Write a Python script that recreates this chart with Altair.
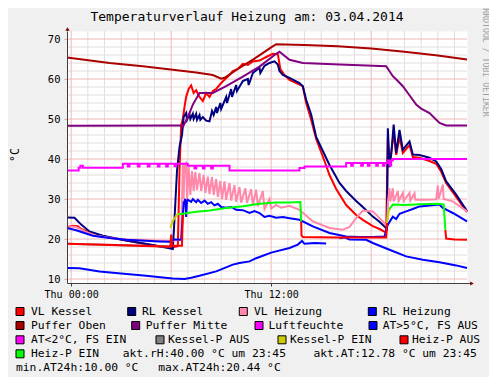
import altair as alt
import pandas as pd

FONT = "DejaVu Sans Mono"

# ---------------- data: (hour of 03.04.2014, value) ----------------
vl_kessel = [(-0.25,23.0),(0.1,23.3),(0.4,23.2),(0.6,22.5),(1.3,21.3),(2.3,20.4),(3.3,19.6),(4.3,18.9),(5.3,18.2),(6.0,17.9),
             (6.4,18.2),(6.5,37.0),(6.6,48.5),(6.7,50.0),(6.8,53.0),(6.9,55.6),(7.05,57.5),(7.2,58.4),(7.35,56.5),(7.5,57.2),
             (7.7,55.5),(7.9,54.5),(8.1,56.5),(8.3,55.5),(8.5,57.0),(8.7,57.5),(9.0,59.0),(9.2,59.8),(9.5,61.0),(9.7,62.0),
             (10.0,62.5),(10.3,63.8),(10.6,63.5),(10.9,64.4),(11.3,64.6),(11.7,65.5),(12.1,66.3),(12.4,66.2),(12.55,62.5),(12.8,61.0),
             (13.1,59.8),(13.9,58.2),(14.1,54.0),(14.4,49.8),(14.7,45.0),(15.2,39.5),(15.5,36.0),(15.9,32.5),(16.5,28.5),(17.1,26.0),
             (17.5,24.8),(18.1,23.2),(18.5,22.5),(18.9,21.6),(19.0,45.5),(19.1,39.0),(19.2,41.5),(19.35,46.5),(19.5,41.0),(19.7,45.5),
             (19.9,41.5),(20.3,43.5),(20.5,40.5),(20.9,40.3),(21.5,39.5),(21.9,38.8),(22.2,36.8),(22.5,34.0),(23.1,30.5),(23.75,26.7)]

rl_kessel = [(-0.25,25.4),(0.2,25.3),(0.6,23.6),(1.1,21.9),(1.9,20.8),(3.3,19.6),(4.7,18.6),(5.9,17.7),(6.1,17.5),(6.2,25.0),
             (6.35,37.0),(6.5,43.0),(6.65,46.0),(6.75,50.5),(6.9,51.5),(6.95,49.8),(7.1,51.2),(7.15,50.0),(7.3,51.3),(7.35,50.0),
             (7.5,51.3),(7.55,49.8),(7.7,51.0),(7.75,49.8),(7.9,50.5),(8.1,49.6),(8.3,49.4),(8.45,52.0),(8.55,51.0),(8.7,53.0),
             (8.75,51.5),(8.95,54.0),(9.0,52.5),(9.3,55.5),(9.35,54.0),(9.6,57.5),(9.65,55.5),(9.9,58.5),(9.95,57.0),(10.3,59.5),
             (10.6,60.0),(10.65,58.5),(10.9,61.5),(11.3,62.8),(11.35,61.5),(11.6,63.3),(11.9,64.0),(12.2,64.4),(12.4,63.6),(12.5,62.0),
             (12.7,61.0),(13.1,60.3),(13.7,59.0),(13.9,58.2),(14.1,54.8),(14.4,51.1),(14.7,45.5),(15.1,42.0),(15.5,38.5),(16.1,34.0),
             (16.5,32.0),(17.1,29.5),(17.5,28.0),(18.1,25.6),(18.5,24.3),(18.95,22.5),(19.0,47.7),(19.1,38.0),(19.2,41.0),(19.35,48.6),
             (19.5,41.5),(19.7,47.3),(19.9,42.3),(20.3,44.4),(20.5,41.1),(20.9,41.0),(21.5,40.3),(21.9,39.4),(22.2,37.5),(22.5,34.4),
             (23.1,31.1),(23.75,27.0)]

vl_heizung = [(-0.25,23.2),(0.3,23.0),(0.8,21.9),(1.5,20.8),(2.5,20.2),(3.5,19.9),(5.0,19.6),(6.0,19.5),(6.6,19.9),(6.7,38.8),
              (6.75,30.0),(6.8,38.5),(6.9,39.0),(6.95,29.5),(7.05,38.0),(7.15,31.0),(7.25,37.0),(7.35,32.0),(7.45,36.8),(7.55,32.3),
              (7.7,36.5),(7.8,32.0),(7.95,36.0),(8.05,31.5),(8.2,35.6),(8.3,31.2),(8.45,35.5),(8.55,31.0),(8.7,35.0),(8.8,30.5),
              (8.95,34.5),(9.05,30.0),(9.2,34.4),(9.3,29.8),(9.5,34.0),(9.6,29.6),(9.8,33.5),(9.9,29.3),(10.1,33.0),(10.2,29.1),
              (10.45,32.7),(10.55,29.0),(10.8,32.5),(10.9,28.5),(11.1,32.3),(11.2,28.2),(11.5,32.0),(11.6,27.5),(11.9,30.0),(12.0,27.6),
              (12.3,28.5),(12.6,27.8),(13.1,28.3),(13.7,27.3),(14.5,24.4),(15.5,22.75),(16.3,22.3),(16.7,23.0),(17.1,25.2),(17.5,27.1),
              (18.1,26.9),(18.7,24.4),(18.95,23.1),(19.0,29.0),(19.1,32.7),(19.15,29.4),(19.3,32.7),(19.35,29.4),(19.6,32.0),(19.65,29.5),
              (19.9,31.5),(19.95,29.5),(20.3,31.5),(20.35,29.6),(20.6,31.4),(20.65,29.8),(21.3,29.8),(21.9,29.9),(22.0,33.4),(22.05,30.0),
              (22.3,33.6),(22.35,30.0),(22.9,29.4),(23.75,26.9)]

rl_heizung = [(-0.25,22.75),(0.3,22.2),(0.8,21.5),(1.3,20.8),(2.3,20.25),(3.3,19.8),(5.3,19.4),(5.9,19.3),(6.2,19.9),(6.6,19.8),
              (6.75,29.0),(6.85,30.0),(6.9,25.5),(6.95,29.5),(7.0,29.8),(7.2,29.3),(7.3,30.0),(7.5,29.2),(7.6,29.8),(7.8,29.0),
              (8.0,29.6),(8.2,28.8),(8.4,29.2),(8.6,28.4),(8.8,28.8),(9.0,28.0),(9.3,27.8),(9.6,28.0),(9.9,27.3),(10.3,27.2),
              (10.7,26.5),(11.0,27.0),(11.3,26.5),(11.6,25.5),(11.9,25.8),(12.3,25.3),(12.7,25.5),(13.1,25.2),(13.7,24.8),(14.5,23.15),
              (15.5,21.5),(16.5,20.65),(17.3,20.5),(18.1,20.5),(18.8,20.65),(19.0,23.6),(19.3,25.6),(19.5,25.0),(19.7,26.3),(20.1,26.9),
              (20.5,27.5),(20.9,28.15),(21.5,28.4),(22.1,28.6),(22.3,27.75),(22.9,26.5),(23.75,24.4)]

puffer_oben = [(-0.25,65.4),(2.3,64.0),(4.3,63.2),(6.1,62.3),(7.5,61.6),(8.5,61.0),(9.0,60.1),(9.2,60.3),(10.0,62.5),(11.0,65.1),
               (12.0,67.9),(12.3,68.7),(14.0,68.5),(16.0,68.2),(18.0,67.6),(20.0,66.8),(22.0,65.9),(23.75,64.9)]

puffer_mitte = [(-0.25,48.3),(6.5,48.4),(6.7,48.0),(7.0,50.5),(7.3,53.6),(7.7,56.5),(8.5,56.5),(9.3,58.2),(10.3,60.6),(11.3,63.1),
                (12.3,66.3),(12.5,66.8),(13.1,64.8),(13.9,64.0),(16.1,63.6),(18.9,63.2),(19.3,60.7),(19.6,59.5),(19.9,58.2),(20.2,56.5),
                (20.7,53.6),(21.0,52.6),(21.5,51.5),(22.1,49.0),(22.5,48.4),(23.75,48.4)]

luftfeuchte = [(-0.25,37.1),(0.45,37.8),(0.55,38.3),(0.7,37.8),(3.1,38.8),(3.4,38.1),(3.5,38.8),(4.0,38.1),(4.1,38.8),(4.6,38.1),
               (4.7,38.8),(5.2,38.1),(5.3,38.8),(5.7,38.1),(5.8,38.8),(6.2,38.2),(6.3,38.8),(7.0,38.3),(7.4,37.6),(7.5,38.3),
               (7.9,37.6),(8.0,38.3),(8.4,37.6),(8.5,38.3),(9.5,37.15),(13.7,37.75),(14.0,38.15),(16.5,39.0),(16.8,38.3),(16.9,39.0),
               (17.4,38.3),(17.5,39.0),(17.8,38.3),(17.9,39.0),(18.3,38.3),(18.4,39.0),(18.7,38.3),(18.8,39.0),(19.0,39.6),(19.1,38.4),
               (19.2,39.6),(19.3,40.0),(23.75,40.0)]

aussen_1 = [(-0.25,12.75),(0.5,12.7),(1.7,11.9),(3.0,11.4),(4.5,10.8),(5.5,10.4),(6.1,10.1),(6.8,10.0),(7.2,10.3),(7.7,10.8),
            (8.7,11.9),(9.7,13.6),(10.1,14.0),(10.7,14.4),(11.1,15.2),(12.0,16.6),(13.1,17.75),(13.6,18.6),(13.85,19.5),(14.0,18.8),
            (14.6,19.0),(15.3,18.9)]
aussen_2 = [(16.1,20.2),(16.4,20.44),(16.7,19.9),(17.7,19.8),(18.1,19.0),(19.1,17.3),(20.1,15.65),(21.1,14.8),(22.1,14.2),(23.1,13.4),
            (23.75,12.75)]

kesselp_aus_1 = [(-0.25,18.8),(5.95,18.1)]
kesselp_ein_1 = [(5.95,22.8),(6.1,24.5),(6.35,26.1),(6.5,26.3)]
kesselp_ein_2 = [(18.95,24.0),(19.05,26.9),(19.15,27.8)]

heizp_aus_1 = [(-0.25,18.8),(5.95,18.1),(6.0,21.1),(6.06,18.3),(6.65,18.3),(6.7,26.3)]
heizp_aus_2 = [(13.8,24.4),(13.82,20.9),(13.9,20.5),(16.0,20.4),(18.9,20.4),(18.95,24.0)]
heizp_aus_3 = [(22.45,22.3),(22.5,20.1),(23.0,19.9),(23.75,19.8)]
heizp_ein_1 = [(6.45,26.2),(6.8,26.4),(7.5,26.8),(8.3,27.1),(9.3,27.75),(10.3,28.2),(11.3,28.8),(12.3,29.15),(13.1,29.15),(13.75,29.25),(13.8,24.4)]
heizp_ein_2 = [(19.1,27.5),(19.3,28.6),(20.0,28.5),(21.0,28.7),(22.0,28.8),(22.35,28.6),(22.45,22.3)]

legend_labels = ["VL Kessel", "RL Kessel", "VL Heizung", "RL Heizung",
                 "Puffer Oben", "Puffer Mitte", "Luftfeuchte", "AT>5°C, FS AUS",
                 "AT<2°C, FS EIN", "Kessel-P AUS", "Kessel-P EIN", "Heiz-P AUS",
                 "Heiz-P EIN"]
legend_colors = ["#FF0000", "#000080", "#FF88AA", "#0000FF",
                 "#AA0000", "#800080", "#FF00FF", "#0000FF",
                 "#FF00FF", "#808080", "#CCCC00", "#FF0000",
                 "#00FF00"]
info_texts = ["akt.rH:40.00 °C um 23:45", "akt.AT:12.78 °C um 23:45",
              "min.AT24h:10.00 °C", "max.AT24h:20.44 °C"]
title_text = "Temperaturverlauf Heizung am: 03.04.2014"

y_major = [10, 20, 30, 40, 50, 60, 70]
x_major = [0, 6, 12, 18]

# ---------------- layout helpers ----------------
OX, OY = 67, 31   # page position of plot origin


def rel_x(px):
    return px - OX


def rel_y(py):
    return py - OY


xs = alt.Scale(domain=[-0.25, 23.75], nice=False, zero=False)
ys = alt.Scale(domain=[9, 72], nice=False, zero=False)
xaxis = alt.Axis(values=[0, 12], labelExpr="'Thu ' + (datum.value < 10 ? '0' : '') + datum.value + ':00'",
                 grid=False, title=None, labelFont=FONT, labelFontSize=10, labelColor="#000000",
                 domainColor="#404040", tickColor="#404040", tickSize=3, labelPadding=3,
                 labelFlush=False, labelOverlap=False, zindex=1)
yaxis = alt.Axis(values=y_major, grid=False, title=None, labelFont=FONT, labelFontSize=10.5, labelColor="#000000",
                 domainColor="#404040", tickColor="#E8A8A8", tickSize=3, labelPadding=4, zindex=1)
X = alt.X("t:Q", scale=xs, axis=xaxis)
Y = alt.Y("v:Q", scale=ys, axis=yaxis)

layers = []

# grid
minor_h = [v for v in range(10, 72, 2) if v % 10]
minor_v = [h for h in range(0, 24) if h % 6]
layers.append(alt.Chart(pd.DataFrame({"v": minor_h})).mark_rule(color="#E6DCDC", strokeWidth=1).encode(y=Y))
layers.append(alt.Chart(pd.DataFrame({"t": minor_v})).mark_rule(color="#E0E0E0", strokeWidth=1).encode(x=X))
layers.append(alt.Chart(pd.DataFrame({"v": y_major})).mark_rule(color="#F0B8B8", strokeWidth=1).encode(y=Y))
layers.append(alt.Chart(pd.DataFrame({"t": x_major})).mark_rule(color="#F0B8B8", strokeWidth=1).encode(x=X))


def line_layer(segments, color, interp="linear"):
    rows = []
    for i, seg in enumerate(segments):
        for t, v in seg:
            rows.append({"t": t, "v": v, "seg": i})
    df = pd.DataFrame(rows)
    return alt.Chart(df).mark_line(color=color, strokeWidth=2, interpolate=interp).encode(
        x=X, y=Y, detail="seg:N", order="t:Q")


layers += [
    line_layer([vl_kessel], "#FF0000"),
    line_layer([rl_kessel], "#000080"),
    line_layer([vl_heizung], "#FF88AA"),
    line_layer([rl_heizung], "#0000FF"),
    line_layer([puffer_oben], "#AA0000"),
    line_layer([puffer_mitte], "#800080"),
    line_layer([luftfeuchte], "#FF00FF", "step-after"),
    line_layer([aussen_1, aussen_2], "#0000FF"),
    line_layer([kesselp_aus_1], "#808080"),
    line_layer([kesselp_ein_1, kesselp_ein_2], "#CCCC00"),
    line_layer([heizp_aus_1, heizp_aus_2, heizp_aus_3], "#FF0000"),
    line_layer([heizp_ein_1, heizp_ein_2], "#00FF00"),
]

one = pd.DataFrame({"k": [0]})


def text_at(txt, px, py, size, **kw):
    return alt.Chart(one).mark_text(text=txt, font=FONT, fontSize=size, **kw).encode(
        x=alt.value(rel_x(px)), y=alt.value(rel_y(py)))


# axis arrows / extensions
layers.append(alt.Chart(one).mark_rule(color="#404040").encode(
    x=alt.value(400), x2=alt.value(404), y=alt.value(252.5)))
layers.append(alt.Chart(one).mark_rule(color="#404040").encode(
    x=alt.value(0.5), y=alt.value(-2), y2=alt.value(0)))
layers.append(alt.Chart(one).mark_point(shape="triangle-up", filled=True, size=18, color="#7F0000", opacity=1).encode(
    x=alt.value(0.5), y=alt.value(-2)))
layers.append(alt.Chart(one).mark_point(shape="triangle-right", filled=True, size=18, color="#7F0000", opacity=1).encode(
    x=alt.value(405), y=alt.value(252.5)))

# texts
layers.append(text_at(title_text, 247, 21, 13, align="center", baseline="alphabetic", color="#000000"))
layers.append(text_at("°C", 15.5, 155, 11.5, align="center", baseline="middle", angle=270, color="#000000"))
layers.append(text_at("RRDTOOL / TOBI OETIKER", 484.5, 62.5, 8.2, align="center", baseline="middle", angle=90,
                      color="#A0A0A0"))

# legend
row_base = [315, 329, 343.3, 357.3, 371]
box_x = [16, 127.7, 239.3, 368.3, 16, 131.7, 255, 369, 16, 156, 278, 400, 16]
txt_x = [31, 142.0, 254, 382.7, 31, 145.7, 268.5, 382.7, 31, 168.0, 290.0, 412.0, 31]
leg_rows = []
for i, (lab, col) in enumerate(zip(legend_labels, legend_colors)):
    base = row_base[i // 4]
    leg_rows.append({"lab": lab, "col": col, "bx": rel_x(box_x[i]), "bx2": rel_x(box_x[i] + 8),
                     "by": rel_y(base - 7.5), "by2": rel_y(base + 0.5), "tx": rel_x(txt_x[i]), "ty": rel_y(base)})
leg = pd.DataFrame(leg_rows)
layers.append(alt.Chart(leg).mark_rect(stroke="#000000", strokeWidth=1).encode(
    x=alt.X("bx:Q", scale=None), x2="bx2:Q", y=alt.Y("by:Q", scale=None), y2="by2:Q",
    fill=alt.Color("col:N", scale=None)))
layers.append(alt.Chart(leg).mark_text(font=FONT, fontSize=11.3, align="left", baseline="alphabetic", color="#000000").encode(
    x=alt.X("tx:Q", scale=None), y=alt.Y("ty:Q", scale=None), text="lab:N"))

info_pos = [(122.7, row_base[3]), (313.5, row_base[3]), (16, row_base[4]), (158.3, row_base[4])]
for txt, (px, py) in zip(info_texts, info_pos):
    layers.append(text_at(txt, px, py, 11.3, align="left", baseline="alphabetic", color="#000000"))

chart = alt.layer(*layers).properties(
    width=400, height=252, background="#F0F0F0",
    padding={"left": 59, "top": 23, "right": 22, "bottom": 94},
    autosize=alt.AutoSizeParams(type="none"),
).configure_view(fill="#FFFFFF", stroke="transparent")

chart.save("out.html", embed_options={"renderer": "svg", "actions": False})
